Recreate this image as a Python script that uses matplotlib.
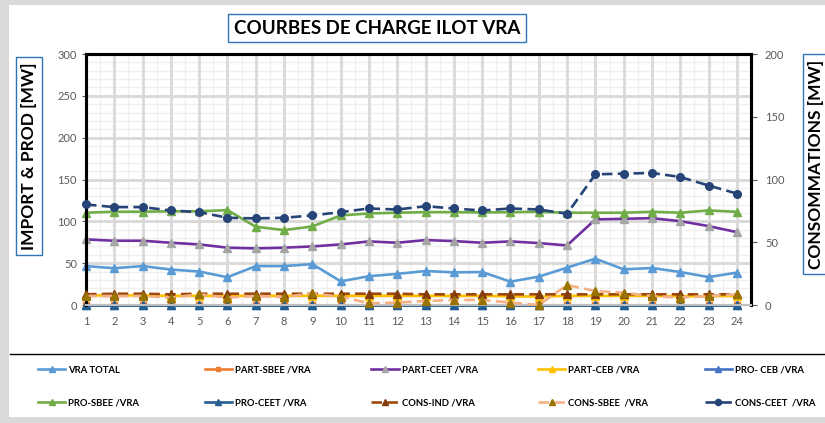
import numpy as np
import matplotlib.pyplot as plt
from matplotlib.lines import Line2D
from matplotlib.patches import Rectangle

plt.rcParams['font.family'] = ['Lato', 'DejaVu Sans']

hours = list(range(1, 25))

# primary axis (IMPORT & PROD, MW)
vra_total = [46.5, 44, 46.5, 42.4, 40, 33.2, 46.5, 46.5, 48.9, 28.3, 34.4, 37.2,
             40.6, 39, 39.4, 27.9, 33.9, 44.6, 55.4, 42.6, 44.2, 39.4, 33.4, 38.7]
part_sbee = [0] * 24
part_ceet = [78.4, 76.8, 76.8, 74.4, 72.4, 68.5, 67.7, 68.5, 70, 72.4, 76, 74.4,
             77.6, 76.4, 74.4, 76, 74, 71.2, 102.3, 103, 103.8, 100.2, 94.3, 87.1]
part_ceb = [11.5, 11.5, 11.5, 11, 11, 11, 11, 11, 11, 11, 11, 11,
            11, 11, 11, 10.5, 10, 11, 11, 11, 11, 10.5, 10.5, 11]
pro_ceb = [0] * 24
pro_sbee = [110.3, 111.5, 111.5, 112, 112, 113.4, 93.5, 89.5, 93.9, 107, 109.4, 110.3,
            111, 111, 110.6, 111, 111.4, 110.3, 110.3, 110.3, 111.4, 110.3, 113, 111.4]
pro_ceet = [0] * 24

# secondary axis (CONSOMMATIONS, MW)
cons_ind = [8.5, 9, 9, 8.5, 9, 9, 9, 9, 9, 9, 9, 9,
            8.5, 8.5, 8.5, 8.5, 8.5, 8.5, 8.5, 8.5, 8.5, 8.5, 8.5, 8.5]
cons_sbee = [7.2, 7.2, 7.2, 5.9, 8.5, 5.9, 7.2, 6.4, 9.3, 6.6, 1.4, 1.9,
             3.2, 4, 4, 1.9, 0, 15.9, 11.1, 9.8, 7.2, 5.9, 7.2, 8.5]
cons_ceet = [80.1, 78, 78, 75.3, 74, 69.5, 69, 69.5, 71.4, 74, 76.9, 76.1,
             78.7, 76.9, 75.3, 76.9, 76.1, 72.7, 104.1, 104.7, 105.2, 102, 95.2, 88.8]

fig = plt.figure(figsize=(8.25, 4.23), dpi=100)
fig.patch.set_facecolor('white')

# grey frame (left, top, bottom) around the chart
for rect in [(0, 0, 9 / 825, 1), (0, 1 - 5 / 423, 1, 5 / 423), (0, 0, 1, 6 / 423)]:
    fig.patches.append(Rectangle(rect[:2], rect[2], rect[3], transform=fig.transFigure,
                                 facecolor='#d9d9d9', edgecolor='none', zorder=0))

ax = fig.add_axes([86 / 825, 1 - 305 / 423, (751 - 86) / 825, (305 - 54) / 423])
ax2 = ax.twinx()

ax.set_xlim(1, 24.5)
ax.set_ylim(0, 300)
ax2.set_ylim(0, 200)
ax.set_xticks(hours)
ax.set_yticks(np.arange(0, 301, 50))
ax2.set_yticks(np.arange(0, 201, 50))

# grid: light minor lines first, then heavier major lines on top
for xv in np.arange(1.5, 24.5, 1):
    ax.axvline(xv, color='#f0f0f0', lw=1, zorder=0.3)
for yv in np.arange(10, 300, 10):
    ax.axhline(yv, color='#f0f0f0', lw=1, zorder=0.3)
for xv in hours[1:]:
    ax.axvline(xv, color='#d9d9d9', lw=2, zorder=0.5)
for yv in np.arange(50, 300, 50):
    ax.axhline(yv, color='#d9d9d9', lw=2, zorder=0.5)

for a in (ax, ax2):
    for side in ('left', 'top', 'right'):
        a.spines[side].set_color('black')
        a.spines[side].set_linewidth(2.2)
    a.spines['bottom'].set_color('#bfbfbf')
    a.spines['bottom'].set_linewidth(1.5)
    a.tick_params(labelsize=8, colors='#595959', length=3)
ax.tick_params(axis='x', which='both', length=0, pad=8)
ax2.tick_params(axis='y', pad=6, length=4)

lw = 1.9
ms = 5.5
kw = dict(lw=lw, ms=ms, clip_on=False, zorder=3)
h_vra, = ax.plot(hours, vra_total, color='#5b9bd5', marker='^', **kw)
h_psbee, = ax.plot(hours, part_sbee, color='#ed7d31', marker='s',
                   lw=lw, ms=4, clip_on=False, zorder=3)
h_pceet, = ax.plot(hours, part_ceet, color='#7030a0', marker='^',
                   mfc='#a5a5a5', mec='#a5a5a5', **kw)
h_pceb, = ax.plot(hours, part_ceb, color='#ffc000', marker='^', **kw)
h_prceb, = ax.plot(hours, pro_ceb, color='#4472c4', marker='^', **kw)
h_prsbee, = ax.plot(hours, pro_sbee, color='#70ad47', marker='^', **kw)
h_prceet, = ax.plot(hours, pro_ceet, color='#255e91', marker='^', **kw)

h_cind, = ax2.plot(hours, cons_ind, color='#9e480e', ls=(0, (4, 2)), marker='^',
                   mfc='#843c0c', mec='#843c0c', **kw)
h_csbee, = ax2.plot(hours, cons_sbee, color='#f4b183', ls=(0, (4, 2)), marker='^',
                    mfc='#997300', mec='#997300', **kw)
h_cceet, = ax2.plot(hours, cons_ceet, color='#264478', ls=(0, (4, 2)), marker='o', **kw)

# title and axis labels in boxes
box = dict(boxstyle='square,pad=0.3', facecolor='white', edgecolor='#2e75b6', linewidth=1)
fig.text(377 / 825, 1 - 28 / 423, 'COURBES DE CHARGE ILOT VRA', ha='center', va='center',
         fontsize=13.5, fontweight='bold', bbox=box)
fig.text(29 / 825, 1 - 156 / 423, 'IMPORT & PROD [MW]', rotation=90, ha='center',
         va='center', fontsize=12.5, fontweight='bold', bbox=box)
fig.text(816 / 825, 1 - 164 / 423, 'CONSOMMATIONS [MW]', rotation=90, ha='center',
         va='center', fontsize=12.5, fontweight='bold', bbox=box)

# legend area separator
fig.add_artist(Line2D([10 / 825, 1], [1 - 354 / 423] * 2, transform=fig.transFigure,
                      color='black', lw=1))

handles = [h_vra, h_psbee, h_pceet, h_pceb, h_prceb,
           h_prsbee, h_prceet, h_cind, h_csbee, h_cceet]
labels = ['VRA TOTAL', 'PART-SBEE /VRA', 'PART-CEET /VRA', 'PART-CEB /VRA', 'PRO- CEB /VRA',
          'PRO-SBEE /VRA', 'PRO-CEET /VRA', 'CONS-IND /VRA', 'CONS-SBEE  /VRA', 'CONS-CEET  /VRA']
for i, (h, lab) in enumerate(zip(handles, labels)):
    col, row = i % 5, i // 5
    x0 = (38 + col * 166.7) / 825
    y0 = 1 - (370 + row * 33) / 423
    fig.legend([h], [lab], loc='center left', bbox_to_anchor=(x0, y0), frameon=False,
               prop={'size': 6.8, 'weight': 'bold'}, handlelength=2.9, handletextpad=0.3,
               markerscale=0.8, borderpad=0, borderaxespad=0)

fig.savefig('out.png', dpi=100)
